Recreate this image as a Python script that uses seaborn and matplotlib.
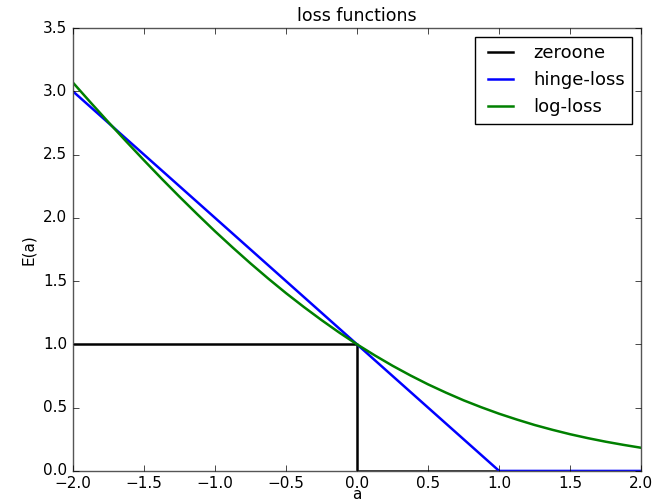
import matplotlib
matplotlib.use("Agg")
import matplotlib.pyplot as plt
import seaborn as sns
import pandas as pd

# valores
zeroone_x = [-2.0, 0.0, 0.0, 2.0]
zeroone_y = [1.0, 1.0, 0.0, 0.0]

hinge_x = [-2.0, 1.0, 2.0]
hinge_y = [3.0, 0.0, 0.0]

log_x = [-2.0, -1.875, -1.75, -1.625, -1.5, -1.375, -1.25, -1.125, -1.0,
         -0.875, -0.75, -0.625, -0.5, -0.375, -0.25, -0.125, 0.0,
         0.125, 0.25, 0.375, 0.5, 0.625, 0.75, 0.875, 1.0,
         1.125, 1.25, 1.375, 1.5, 1.625, 1.75, 1.875, 2.0]
log_y = [3.069, 2.911, 2.756, 2.604, 2.455, 2.309, 2.167, 2.029, 1.894,
         1.765, 1.640, 1.520, 1.405, 1.296, 1.192, 1.093, 1.0,
         0.913, 0.831, 0.755, 0.684, 0.619, 0.558, 0.503, 0.452,
         0.406, 0.363, 0.325, 0.290, 0.259, 0.231, 0.206, 0.183]

plt.style.use("classic")
plt.rcParams["font.family"] = ["DejaVu Sans"]
plt.rcParams["font.size"] = 11

fig = plt.figure(figsize=(6.57, 5.01), dpi=100, facecolor="white")
ax = fig.add_axes([0.111, 0.06, 0.865, 0.884])

sns.lineplot(x=zeroone_x, y=zeroone_y, ax=ax, color="k", lw=1.8, label="zeroone",
             sort=False, estimator=None)
sns.lineplot(x=hinge_x, y=hinge_y, ax=ax, color="b", lw=1.8, label="hinge-loss",
             sort=False, estimator=None)
sns.lineplot(x=log_x, y=log_y, ax=ax, color="g", lw=1.8, label="log-loss",
             sort=False, estimator=None)

ax.set_xlim(-2, 2)
ax.set_ylim(0, 3.5)
ax.set_title("loss functions", fontsize=12.5)
ax.set_xlabel("a", fontsize=11, labelpad=-3)
ax.set_ylabel("E(a)", fontsize=11)
for s in ax.spines.values():
    s.set_color("#555555")
ax.legend(loc="upper right", fontsize=13, frameon=True, fancybox=False)

plt.savefig("out.png", dpi=100, facecolor="white")
plt.close()
